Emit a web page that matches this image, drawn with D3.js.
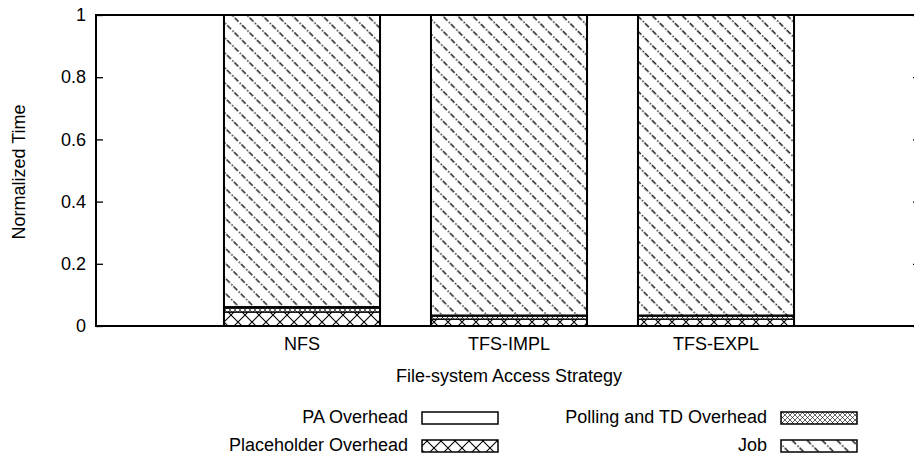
<!DOCTYPE html>
<html>
<head>
<meta charset="utf-8">
<script src="https://cdn.jsdelivr.net/npm/d3@7"></script>
<style>
  html, body { margin: 0; padding: 0; background: #fff; }
  svg { display: block; font-family: "Liberation Sans", Arial, Helvetica, sans-serif; }
</style>
</head>
<body>
<svg id="chart" width="914" height="461"></svg>
<script>
// ---- data ----
const categories = ["NFS", "TFS-IMPL", "TFS-EXPL"];
const placeholderOverhead = [0.045, 0.022, 0.022];
const pollingTDOverhead = [0.013, 0.010, 0.010];
const paOverhead = [0.004, 0.003, 0.003];
const job = [0.938, 0.965, 0.965];
const seriesNames = ["Placeholder Overhead", "Polling and TD Overhead", "PA Overhead", "Job"];
const yTicks = [0, 0.2, 0.4, 0.6, 0.8, 1];
const yTickLabels = ["0", "0.2", "0.4", "0.6", "0.8", "1"];
const xTitle = "File-system Access Strategy";
const yTitle = "Normalized Time";

// ---- layout ----
const svg = d3.select("#chart");
const plotLeft = 96, plotRight = 920, plotTop = 15, plotBottom = 326;
const FS = 18;

const y = d3.scaleLinear().domain([0, 1]).range([plotBottom, plotTop]);
const x = d3.scaleBand().domain(categories).range([198.5, 819.5])
  .paddingInner(0.246).paddingOuter(0.123);

// ---- patterns ----
const defs = svg.append("defs");
// Job: "\" dashed diagonal lines
const pj = defs.append("pattern").attr("id", "pJob").attr("patternUnits", "userSpaceOnUse")
  .attr("width", 10.6).attr("height", 21).attr("patternTransform", "rotate(-45)");
pj.append("rect").attr("width", 10.6).attr("height", 21).attr("fill", "#fff");
pj.append("line").attr("x1", 5).attr("y1", 0).attr("x2", 5).attr("y2", 21)
  .attr("stroke", "#000").attr("stroke-width", 1.3).attr("stroke-dasharray", "5.5,2,1.5,1.5");
// Placeholder: crosshatch
const pc = defs.append("pattern").attr("id", "pCross").attr("patternUnits", "userSpaceOnUse")
  .attr("width", 14).attr("height", 14);
pc.append("rect").attr("width", 14).attr("height", 14).attr("fill", "#fff");
pc.append("path").attr("d", "M0,0L14,14M14,0L0,14").attr("stroke", "#000").attr("stroke-width", 1.1);
// Polling: dense dotted crosshatch
const pp = defs.append("pattern").attr("id", "pDots").attr("patternUnits", "userSpaceOnUse")
  .attr("width", 5).attr("height", 5);
pp.append("rect").attr("width", 5).attr("height", 5).attr("fill", "#fff");
pp.append("path").attr("d", "M0,0L5,5M5,0L0,5").attr("stroke", "#000").attr("stroke-width", 0.6);

const fills = {
  "Placeholder Overhead": "url(#pCross)",
  "Polling and TD Overhead": "url(#pDots)",
  "PA Overhead": "#fff",
  "Job": "url(#pJob)"
};

// ---- stacked bars ----
const table = categories.map((c, i) => ({
  cat: c,
  "Placeholder Overhead": placeholderOverhead[i],
  "Polling and TD Overhead": pollingTDOverhead[i],
  "PA Overhead": paOverhead[i],
  "Job": job[i]
}));
const stack = d3.stack().keys(seriesNames)(table);

const g = svg.append("g");
stack.forEach(layer => {
  g.selectAll(null).data(layer).enter().append("rect")
    .attr("x", d => x(d.data.cat))
    .attr("width", x.bandwidth())
    .attr("y", d => y(d[1]))
    .attr("height", d => y(d[0]) - y(d[1]))
    .attr("fill", fills[layer.key])
    .attr("stroke", "#000")
    .attr("stroke-width", 1.3);
});
const totals = table.map(d => seriesNames.reduce((s, k) => s + d[k], 0));
g.selectAll(null).data(table).enter().append("rect")
  .attr("x", d => x(d.cat)).attr("width", x.bandwidth())
  .attr("y", (d, i) => y(totals[i]))
  .attr("height", (d, i) => y(0) - y(totals[i]))
  .attr("fill", "none").attr("stroke", "#000").attr("stroke-width", 2);

// ---- axes ----
const yAxis = d3.axisLeft(y).tickValues(yTicks).tickFormat((d, i) => yTickLabels[i])
  .tickSizeInner(-7).tickSizeOuter(0).tickPadding(10);
const ya = svg.append("g").attr("transform", `translate(${plotLeft},0)`).call(yAxis);
ya.select(".domain").remove();
ya.selectAll("line").attr("stroke", "#000").attr("stroke-width", 1.3);
ya.selectAll("text").attr("font-size", FS).attr("fill", "#000").attr("font-family", "Liberation Sans, Arial, sans-serif");

const yAxisR = d3.axisRight(y).tickValues(yTicks).tickFormat("").tickSizeInner(-7).tickSizeOuter(0);
const yr = svg.append("g").attr("transform", `translate(${plotRight},0)`).call(yAxisR);
yr.select(".domain").remove();
yr.selectAll("line").attr("stroke", "#000").attr("stroke-width", 1.3);

const xAxis = d3.axisBottom(x).tickSizeInner(0).tickSizeOuter(0).tickPadding(11);
const xa = svg.append("g").attr("transform", `translate(0,${plotBottom})`).call(xAxis);
xa.select(".domain").remove();
xa.selectAll("text").attr("font-size", FS).attr("fill", "#000").attr("font-family", "Liberation Sans, Arial, sans-serif");

// border
svg.append("path")
  .attr("d", `M${plotRight},${plotTop}H${plotLeft}V${plotBottom}H${plotRight}`)
  .attr("fill", "none").attr("stroke", "#000").attr("stroke-width", 2);

// titles
svg.append("text").attr("x", 509).attr("y", 382).attr("text-anchor", "middle")
  .attr("font-size", FS).text(xTitle);
svg.append("text").attr("transform", "translate(25,172) rotate(-90)").attr("text-anchor", "middle")
  .attr("font-size", FS).text(yTitle);

// ---- legend ----
const legendItems = [
  { name: "PA Overhead", col: 0, row: 0 },
  { name: "Placeholder Overhead", col: 0, row: 1 },
  { name: "Polling and TD Overhead", col: 1, row: 0 },
  { name: "Job", col: 1, row: 1 }
];
const colX = [408, 767];
const rowY = [423, 451];
const lg = svg.append("g");
legendItems.forEach(it => {
  const tx = colX[it.col], ty = rowY[it.row];
  lg.append("text").attr("x", tx).attr("y", ty).attr("text-anchor", "end")
    .attr("font-size", FS).text(it.name);
  lg.append("rect").attr("x", tx + 14).attr("y", ty - 11).attr("width", 76).attr("height", 12)
    .attr("fill", fills[it.name]).attr("stroke", "#000").attr("stroke-width", 1.5);
});
</script>
</body>
</html>
